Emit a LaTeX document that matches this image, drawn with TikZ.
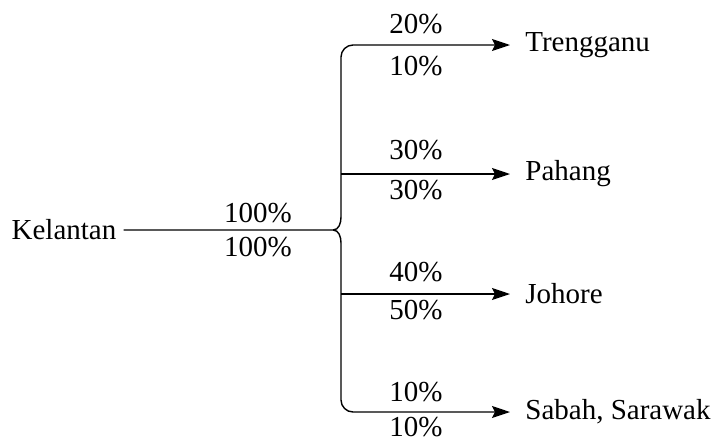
\documentclass[tikz,border=0pt]{standalone}
\usepackage{fontspec}
\setmainfont{Liberation Serif}
\usetikzlibrary{arrows.meta, calc, positioning}

\tikzset{
    flow/.style={-{Stealth[length=9pt, width=6pt, inset=1.5pt]}, shorten >=4pt},
    pct/.style={inner sep=0pt},
}

\begin{document}
\begin{tikzpicture}[x=0.5pt, y=-0.5pt, line width=0.7pt, font=\fontsize{14.5}{16}\selectfont]
                        \useasboundingbox (0, 0) rectangle (715, 440);
                        % states
                        \node (kel) at (64, 230) {Kelantan};
                        \node[anchor=west] (tre) at (518, 45) {Trengganu};
                        \node[anchor=west] (pah) at (518, 174) {Pahang};
                        \node[anchor=west] (joh) at (518, 294) {Johore};
                        \node[anchor=west] (sab) at (518, 412) {Sabah, Sarawak};
                        % brace
                        \coordinate (cusp) at (333, 230);
                        \coordinate (up) at (341, 217);
                        \coordinate (down) at (341, 243);
                        % shares
                        \node[pct] (k1) at (258, 213) {100\%};
                        \node[pct] (k2) at (258, 247) {100\%};
                        \node[pct] (t1) at (416, 24) {20\%};
                        \node[pct] (t2) at (416, 66) {10\%};
                        \node[pct] (p1) at (416, 150) {30\%};
                        \node[pct] (p2) at (416, 190) {30\%};
                        \node[pct] (j1) at (416, 272) {40\%};
                        \node[pct] (j2) at (416, 310) {50\%};
                        \node[pct] (s1) at (416, 392) {10\%};
                        \node[pct] (s2) at (416, 427) {10\%};
                        \draw
                        (kel.east) -- (cusp)
                        (up) to[out=-90, in=0] (cusp) to[out=0, in=90] (down);
                        \draw[flow, rounded corners=6pt] (up) |- (tre.west);
                        \draw[flow, rounded corners=6pt] (down) |- (sab.west);
                        \draw[flow] (pah.west -| up) -- (pah.west);
                        \draw[flow] (joh.west -| up) -- (joh.west);
                    \end{tikzpicture}
\end{document}
